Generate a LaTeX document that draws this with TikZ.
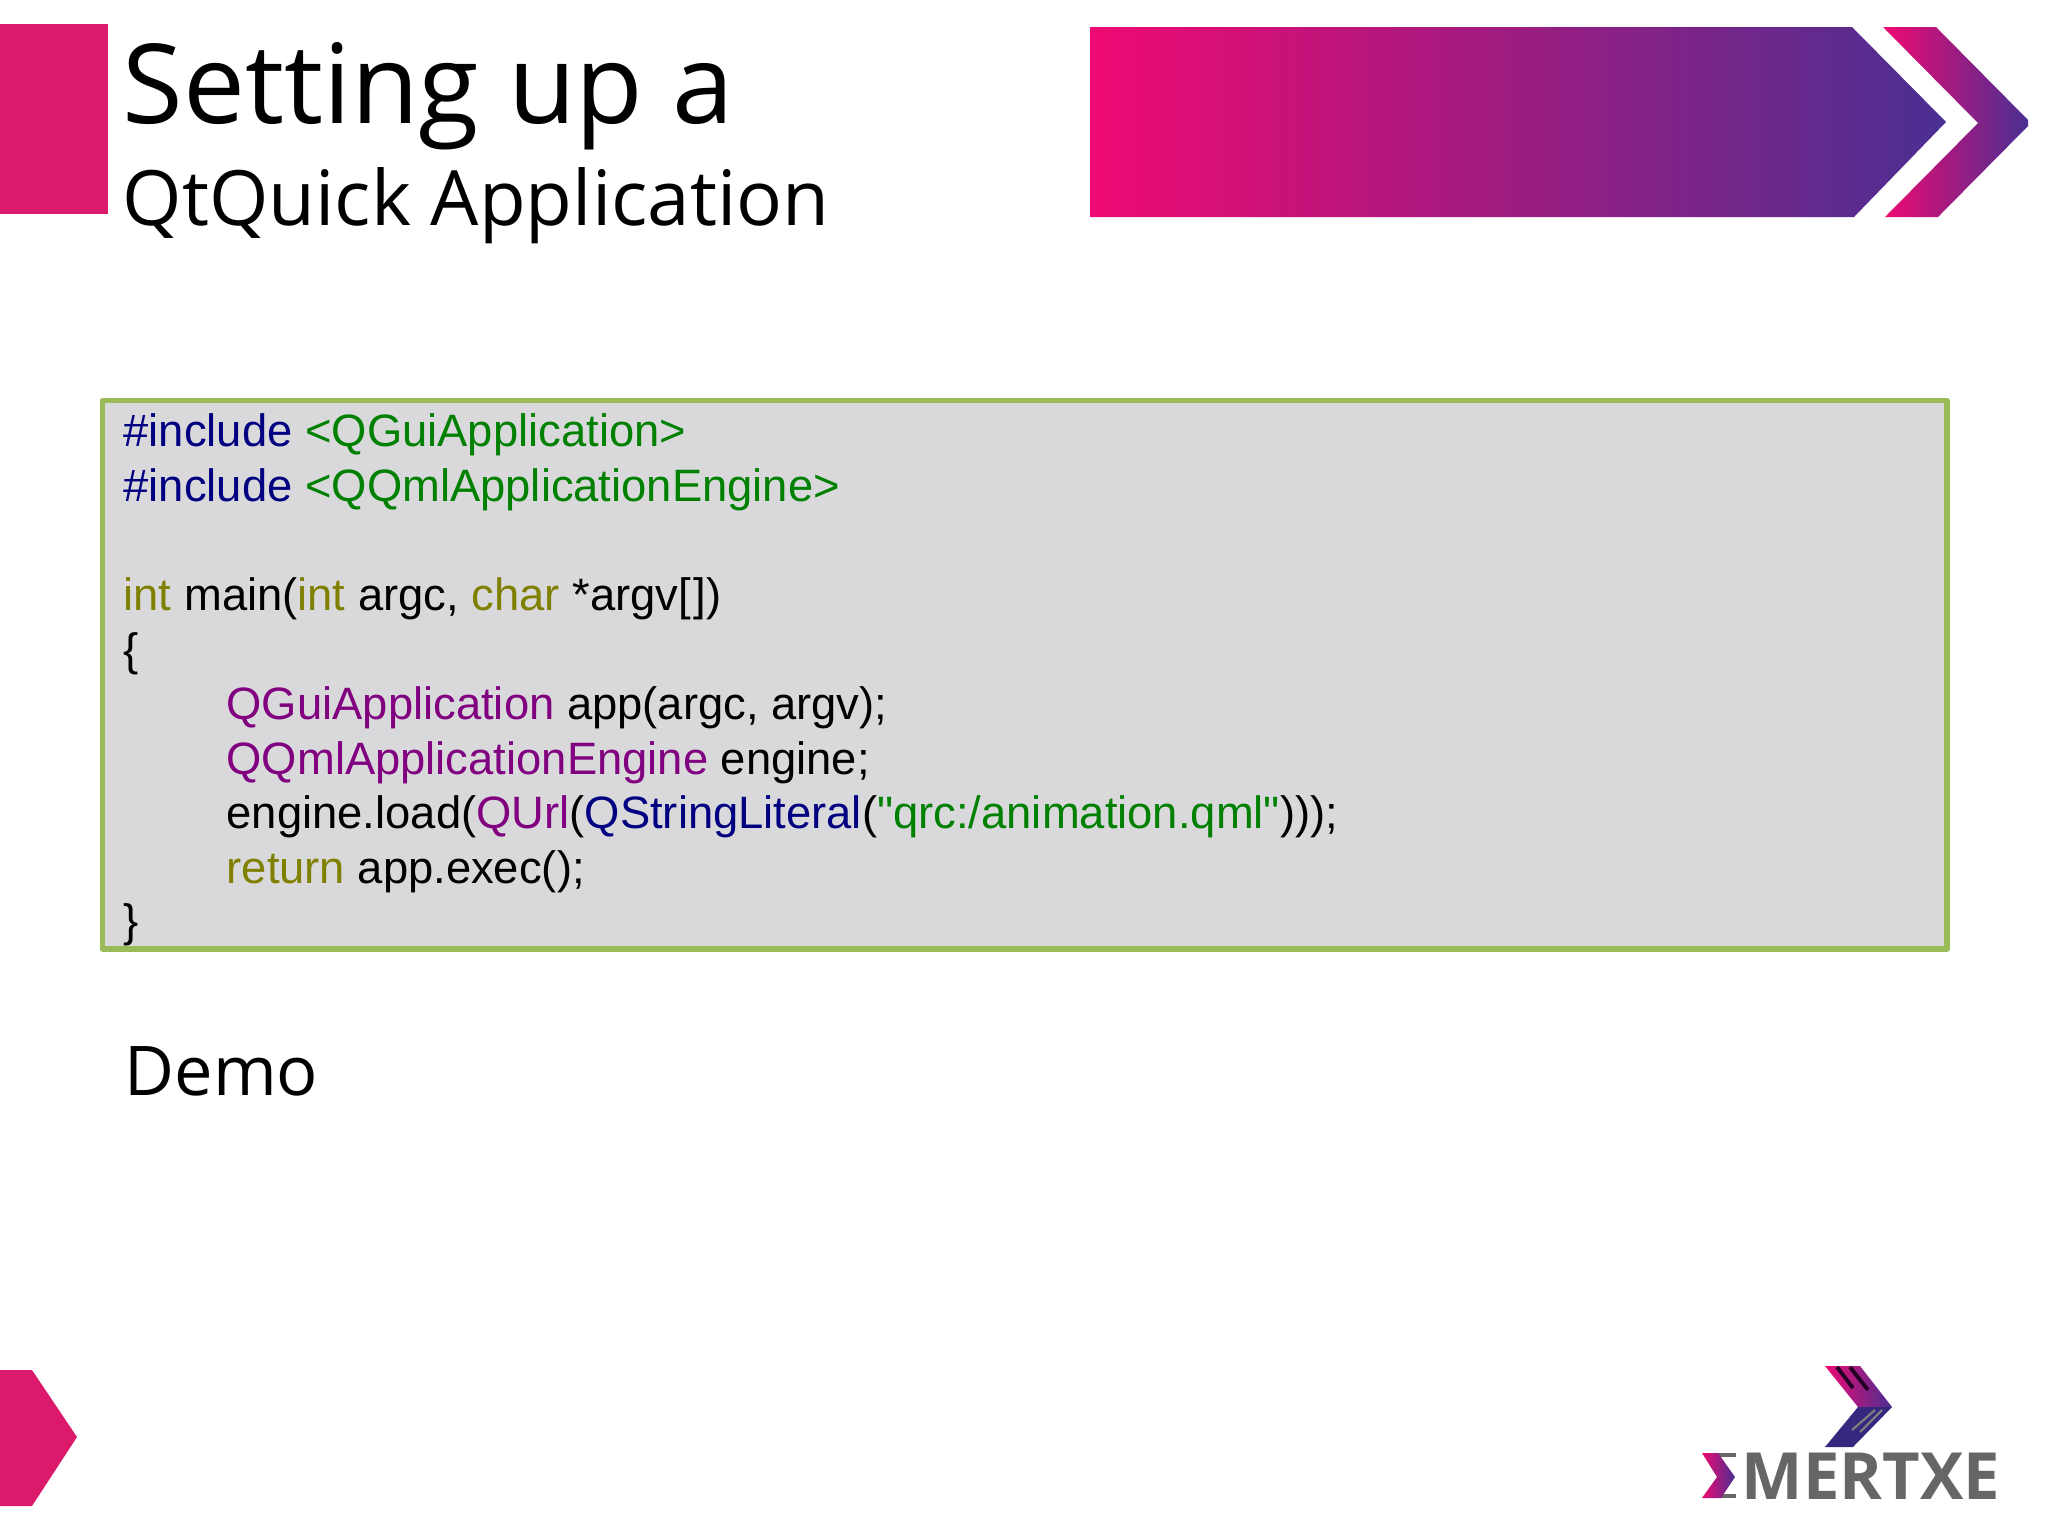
\documentclass[tikz,border=0pt]{standalone}
\usepackage{fontspec}
\setmainfont[Ligatures=TeXOff]{Liberation Sans}
\newfontfamily\titlefont{Open Sans}
\definecolor{slidepink}{HTML}{DC1A6C}
\definecolor{barpink}{HTML}{EE0A72}
\definecolor{barviolet}{HTML}{4A2F92}
\definecolor{boxgreen}{HTML}{9BBB59}
\definecolor{boxgray}{HTML}{D9D9DB}
\definecolor{logogray}{HTML}{666666}
\definecolor{logoblue}{HTML}{36287F}
\newcommand{\inc}[1]{\textcolor[HTML]{000080}{#1}}
\newcommand{\str}[1]{\textcolor[HTML]{008000}{#1}}
\newcommand{\kw}[1]{\textcolor[HTML]{808000}{#1}}
\newcommand{\cls}[1]{\textcolor[HTML]{800080}{#1}}

\begin{document}
\begin{tikzpicture}[x=0.01cm, y=-0.01cm,
    code/.style = {anchor=base west, inner sep=0pt, font=\fontsize{12.9}{15.5}\selectfont},
    head/.style = {anchor=base west, inner sep=0pt, font=\titlefont}]

\useasboundingbox (0, 0) rectangle (2048, 1536);
\fill[white] (0, 0) rectangle (2048, 1536);

%% slide decoration
\fill[slidepink] (0, 24) rectangle (108, 214);
\fill[slidepink] (0, 1370) -- (32, 1370) -- (77, 1437) -- (32, 1506) -- (0, 1506) -- cycle;

\shade[left color=barpink, right color=barviolet] (1090, 27) -- (1852, 27) -- (1946, 122) -- (1854, 217) -- (1090, 217) -- cycle;
\shade[left color=barpink, right color=barviolet] (1883, 27) -- (1936, 27) -- (2028, 120) -- (2028, 126) -- (1938, 217) -- (1885, 217) -- (1978, 123) -- cycle;

%% title
\node[head, font=\titlefont\fontsize{31.4}{36}\selectfont] (title) at (122, 123) {Setting up a};
\node[head, font=\titlefont\fontsize{21.7}{26}\selectfont] (subtitle) at (122, 225) {QtQuick Application};

%% code box
\draw[boxgreen, fill=boxgray, line width=1.6pt, line join=round] (102.5, 400.5) rectangle (1947, 949);

\node[code] (line1) at (123, 446) {\inc{\#include} \str{<QGuiApplication>}};
\node[code] (line2) at (123, 501) {\inc{\#include} \str{<QQmlApplicationEngine>}};
\node[code] (line3) at (123, 610) {\kw{int} main(\kw{int} argc, \kw{char} *argv[\kern0.7pt])};
\node[code] (line4) at (123, 665.5) {\{};
\node[code] (line5) at (226, 719) {\cls{QGuiApplication} app(argc, argv);};
\node[code] (line6) at (226, 774) {\cls{QQmlApplicationEngine} engine;};
\node[code] (line7) at (226, 828) {engine.load(\cls{QUrl}(\inc{QStringLiteral}(\str{"qrc:/animation.qml"})));};
\node[code] (line8) at (226, 883) {\kw{return} app.exec();};
\node[code] (line9) at (123, 936) {\}};

\node[head, font=\titlefont\fontsize{19.5}{24}\selectfont] (demo) at (124, 1095) {Demo};

%% logo
\shade[left color=barpink, right color=barviolet] (1825, 1366) -- (1860, 1366) -- (1892, 1407) -- (1858, 1407) -- cycle;
\fill[logoblue] (1858, 1407) -- (1892, 1407) -- (1853, 1447) -- (1825, 1447) -- cycle;
\draw[black!70!violet, line width=1.1pt] (1837, 1367) -- (1853, 1388);
\draw[black!70!violet, line width=1.1pt] (1850, 1367) -- (1868, 1390);
\draw[gray, line width=0.6pt] (1875, 1410) -- (1852, 1430);
\draw[gray, line width=0.6pt] (1882, 1410) -- (1860, 1432);

\fill[logogray] (1716, 1453) rectangle (1736, 1457);
\fill[logogray] (1716, 1494) rectangle (1736, 1498);
\shade[left color=barpink, right color=barviolet] (1702, 1453) -- (1718, 1453) -- (1735, 1477) -- (1721, 1498) -- (1702, 1498) -- (1717, 1477) -- cycle;

\node[anchor=base west, inner sep=0pt, text=logogray, font=\titlefont\bfseries\fontsize{18.5}{20}\selectfont] (logo) at (1741, 1499) {MERTXE};

\end{tikzpicture}
\end{document}
